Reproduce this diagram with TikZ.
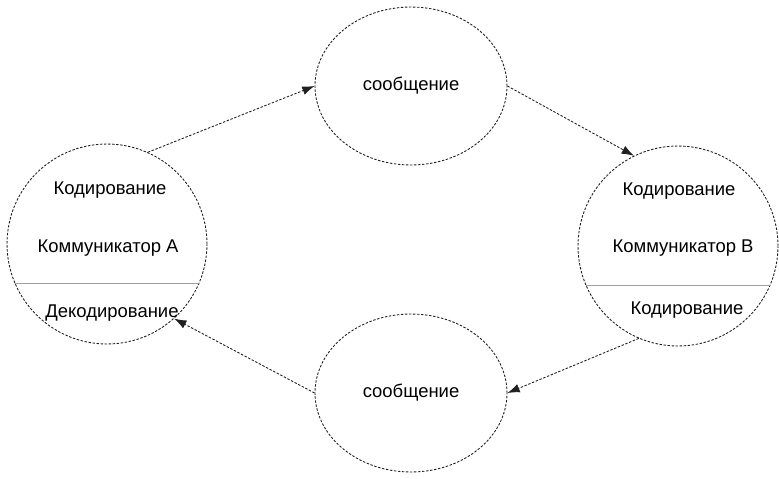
\documentclass[tikz,border=0pt]{standalone}
\usepackage{fontspec}
\setmainfont{Liberation Sans}
\usepackage{xcolor}
\definecolor{commline}{HTML}{202020}
\definecolor{commsplit}{HTML}{a0a0a0}
\usepackage{tikz}
\usetikzlibrary{shapes.geometric, arrows.meta, positioning}

\begin{document}
\begin{tikzpicture}[x=0.02cm, y=-0.02cm,
  party/.style={circle, draw=commline, line width=0.5pt, dash pattern=on 1.4pt off 0.9pt,
    minimum size=4cm, inner sep=0pt},
  msg/.style={ellipse, draw=commline, line width=0.5pt, dash pattern=on 1.4pt off 0.9pt,
    minimum width=3.84cm, minimum height=3.16cm, inner sep=0pt,
    font=\fontsize{10.5}{12}\selectfont},
  lbl/.style={inner sep=0pt, font=\fontsize{10.5}{12}\selectfont},
  flow/.style={draw=commline, line width=0.5pt, dash pattern=on 1.4pt off 0.9pt,
    -{Latex[length=7pt, width=5pt]}}
]
\useasboundingbox (0,0) rectangle (779,478);

\node[party] (commA) at (107, 244) {};
\node[party] (commB) at (678, 246) {};
\node[msg] (msgTop) at (411, 86) {сообщение};
\node[msg] (msgBot) at (411, 393) {сообщение};

% split lines
\draw[commsplit, line width=0.6pt] (commA.203) -- (commA.-23);
\draw[commsplit, line width=0.6pt] (commB.203) -- (commB.-23);

\node[lbl] (aCode) at (110, 190) {Кодирование};
\node[lbl] (aName) at (108, 248) {Коммуникатор А};
\node[lbl] (aDecode) at (112, 313) {Декодирование};

\node[lbl] (bCode) at (679, 191) {Кодирование};
\node[lbl] (bName) at (683, 248) {Коммуникатор В};
\node[lbl] (bCode2) at (687, 310) {Кодирование};

\draw[flow] (commA.66) -- (msgTop.west);
\draw[flow] (msgTop.east) -- (commB.116);
\draw[flow] (commB.247) -- (msgBot.east);
\draw[flow] (msgBot.west) -- (commA.-48);
\end{tikzpicture}
\end{document}
